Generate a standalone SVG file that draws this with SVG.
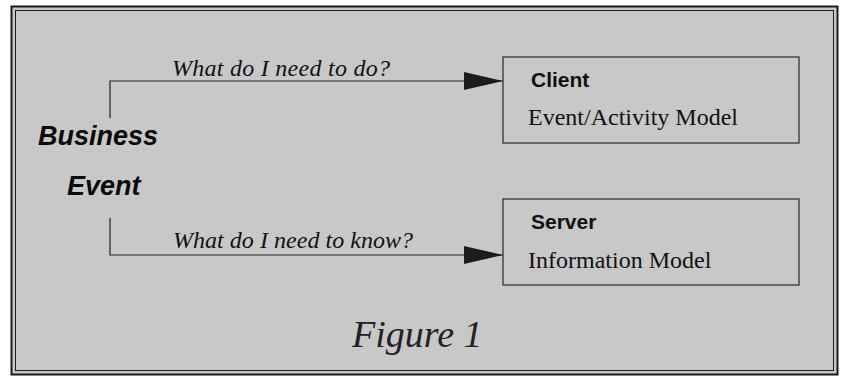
<svg xmlns="http://www.w3.org/2000/svg" width="843" height="376" viewBox="0 0 843 376">
  <defs>
    <style>
      .frame { fill: #c8c8c8; stroke: #1a1a1a; }
      .box { fill: none; stroke: #2a2a2a; stroke-width: 1.2; }
      .conn { fill: none; stroke: #222; stroke-width: 1.2; }
      .title { font-family: "Liberation Sans", Arial, sans-serif; font-weight: bold; font-size: 21px; fill: #111; }
      .sub { font-family: "Liberation Serif", "Times New Roman", serif; font-size: 24px; fill: #111; }
      .q { font-family: "Liberation Serif", "Times New Roman", serif; font-style: italic; font-size: 24px; fill: #111; }
      .be { font-family: "Liberation Sans", Arial, sans-serif; font-weight: bold; font-style: italic; font-size: 27px; fill: #0a0a0a; }
      .fig { font-family: "Liberation Serif", "Times New Roman", serif; font-style: italic; font-size: 38px; fill: #222; }
    </style>
    <marker id="arrow" markerWidth="39" markerHeight="18" refX="39" refY="9" orient="auto" markerUnits="userSpaceOnUse">
      <path d="M0,0 L39,9 L0,18 Z" fill="#1c1c1c"/>
    </marker>
  </defs>
  <rect width="843" height="376" fill="#ffffff"/>
  <rect class="frame" x="11.5" y="6.5" width="826" height="368" stroke-width="2"/>
  <rect x="15.5" y="10.5" width="818" height="360" fill="none" stroke="#1a1a1a" stroke-width="1"/>

  <g id="business-event">
    <text class="be" x="38" y="145">Business</text>
    <text class="be" x="67" y="195">Event</text>
  </g>

  <g id="client">
    <rect class="box" x="503" y="57" width="296" height="86"/>
    <text class="title" x="531" y="87">Client</text>
    <text class="sub" x="528" y="125">Event/Activity Model</text>
  </g>

  <g id="server">
    <rect class="box" x="503" y="199" width="296" height="86"/>
    <text class="title" x="531" y="229">Server</text>
    <text class="sub" x="528" y="268">Information Model</text>
  </g>

  <g id="connectors">
    <path class="conn" d="M110,118 L110,81 L503,81" marker-end="url(#arrow)"/>
    <text class="q" x="172" y="76" textLength="218" lengthAdjust="spacing">What do I need to do?</text>
    <path class="conn" d="M110,218 L110,255 L503,255" marker-end="url(#arrow)"/>
    <text class="q" x="173" y="248" textLength="240" lengthAdjust="spacing">What do I need to know?</text>
  </g>

  <text class="fig" x="352" y="347">Figure 1</text>
</svg>
